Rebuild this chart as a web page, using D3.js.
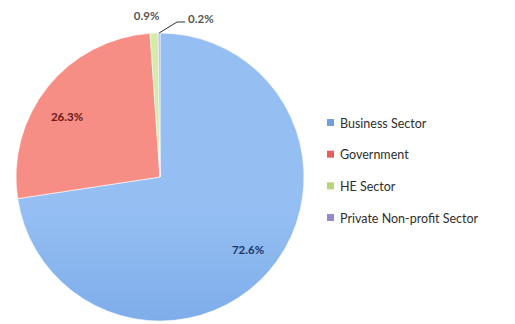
<!DOCTYPE html>
<html>
<head>
<meta charset="utf-8">
<script src="https://cdn.jsdelivr.net/npm/d3@7"></script>
<style>
  html, body { margin: 0; padding: 0; background: #fff; }
  svg { display: block; }
</style>
</head>
<body>
<svg id="chart" width="515" height="324"></svg>
<script>
// R&D expenditure share by performing sector
const sectors = ["Business Sector", "Government", "HE Sector", "Private Non-profit Sector"];
const shares = [72.6, 26.3, 0.9, 0.2];
const valueLabels = ["72.6%", "26.3%", "0.9%", "0.2%"];
const colorsTop = ["#95bff3", "#f78e86", "#d6eca6", "#b5a9e3"];
const colorsBottom = ["#5a90dc", "#e04a43", "#b3d378", "#8d7dcb"];
const legendColors = ["#6f9fdf", "#e0605a", "#b5d47c", "#9887cf"];
const labelColors = ["#1b3668", "#6e1914", "#555555", "#555555"];

const svg = d3.select("#chart");
const cx = 160, cy = 177, r = 144;

const defs = svg.append("defs");
sectors.forEach((s, i) => {
  const g = defs.append("linearGradient")
    .attr("id", "grad" + i)
    .attr("gradientUnits", "userSpaceOnUse")
    .attr("x1", 0).attr("y1", cy - r).attr("x2", 0).attr("y2", cy + r);
  g.append("stop").attr("offset", "0%").attr("stop-color", colorsTop[i]);
  g.append("stop").attr("offset", "100%").attr("stop-color", colorsBottom[i]);
});

const data = sectors.map((s, i) => ({ name: s, value: shares[i], label: valueLabels[i], i }));
const pie = d3.pie().value(d => d.value).sort(null);
const arcs = pie(data);
const arc = d3.arc().innerRadius(0).outerRadius(r);

const g = svg.append("g").attr("transform", `translate(${cx},${cy})`);
g.selectAll("path.slice")
  .data(arcs)
  .join("path")
  .attr("class", "slice")
  .attr("d", arc)
  .attr("fill", d => `url(#grad${d.data.i})`)
  .attr("stroke", "#ffffff")
  .attr("stroke-width", 0.6);

// Value labels inside the two large slices
g.selectAll("text.inner")
  .data(arcs.filter(d => d.data.value > 10))
  .join("text")
  .attr("class", "inner")
  .attr("x", d => d.data.i === 0 ? 88 : -93)
  .attr("y", d => d.data.i === 0 ? 72 : -61)
  .attr("text-anchor", "middle")
  .attr("dominant-baseline", "central")
  .attr("font-family", "Lato, 'Open Sans', sans-serif")
  .attr("font-weight", "bold")
  .attr("font-size", 11.5)
  .attr("fill", d => labelColors[d.data.i])
  .text(d => d.data.label);

// Small slices: labels outside the pie
const small = arcs.filter(d => d.data.value < 10);
const heArc = small[0], pnpArc = small[1];
const heMid = (heArc.startAngle + heArc.endAngle) / 2;
g.append("text")
  .attr("x", Math.sin(heMid) * (r + 14) - 7)
  .attr("y", -Math.cos(heMid) * (r + 14) - 4)
  .attr("text-anchor", "middle")
  .attr("dominant-baseline", "central")
  .attr("font-family", "Lato, 'Open Sans', sans-serif")
  .attr("font-weight", "bold")
  .attr("font-size", 11.5)
  .attr("fill", labelColors[2])
  .text(heArc.data.label);

const pnpMid = (pnpArc.startAngle + pnpArc.endAngle) / 2;
const p0 = [Math.sin(pnpMid) * r, -Math.cos(pnpMid) * r];
const p1 = [p0[0] + 18, p0[1] - 11];
const p2 = [p1[0] + 8, p1[1]];
g.append("polyline")
  .attr("points", [p0, p1, p2].map(p => p.join(",")).join(" "))
  .attr("fill", "none")
  .attr("stroke", "#333")
  .attr("stroke-width", 1);
g.append("text")
  .attr("x", p2[0] + 3)
  .attr("y", p2[1] - 4)
  .attr("text-anchor", "start")
  .attr("dominant-baseline", "central")
  .attr("font-family", "Lato, 'Open Sans', sans-serif")
  .attr("font-weight", "bold")
  .attr("font-size", 11.5)
  .attr("fill", labelColors[3])
  .text(pnpArc.data.label);

// Legend
const legendY = d3.scalePoint().domain(sectors).range([123, 218]);
const legend = svg.append("g").attr("class", "legend");
const items = legend.selectAll("g")
  .data(sectors)
  .join("g")
  .attr("transform", d => `translate(327,${legendY(d)})`);
items.append("rect")
  .attr("x", 0).attr("y", -4)
  .attr("width", 7).attr("height", 7)
  .attr("fill", (d, i) => legendColors[i]);
items.append("text")
  .attr("x", 13)
  .attr("y", 0)
  .attr("dominant-baseline", "central")
  .attr("font-family", "Lato, 'Open Sans', sans-serif")
  .attr("font-size", 12.5)
  .attr("fill", "#2e2e2e")
  .text(d => d);
</script>
</body>
</html>
